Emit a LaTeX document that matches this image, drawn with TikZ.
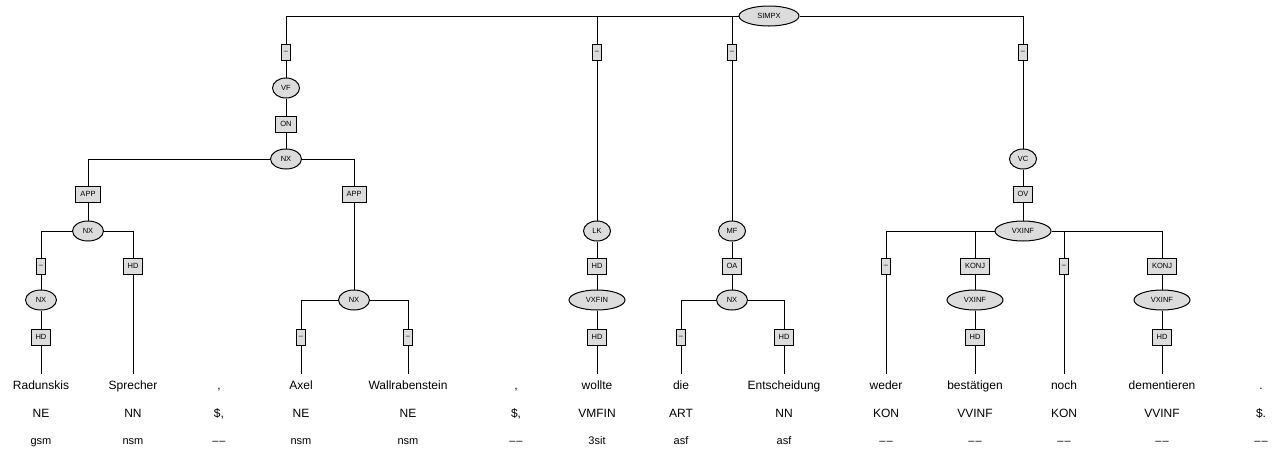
\documentclass[tikz,border=0pt]{standalone}
\usepackage{fontspec}
\setmainfont{Liberation Sans}
\usetikzlibrary{shapes.geometric}
\definecolor{nodegray}{HTML}{DCDCDC}

\begin{document}
\begin{tikzpicture}[x=1pt,y=-1pt,line width=1pt,
  cat/.style={ellipse,draw,fill=nodegray,font=\fontsize{7.5}{9}\selectfont,inner sep=1pt,minimum width=27pt,minimum height=20pt},
  widecat/.style={cat,minimum width=56pt},
  func/.style={rectangle,draw,fill=nodegray,font=\fontsize{7.5}{9}\selectfont,inner xsep=4.5pt,inner ysep=0pt,minimum height=16pt},
  dashbox/.style={func,inner xsep=0pt,minimum width=9pt,minimum height=16pt},
  word/.style={anchor=base,font=\fontsize{12}{14}\selectfont,inner sep=0pt,text height=9pt,text depth=3pt,outer ysep=6pt},
  tag/.style={anchor=base,font=\fontsize{12}{14}\selectfont,inner sep=0pt},
  morph/.style={anchor=base,font=\fontsize{11}{13}\selectfont,inner sep=0pt}]
\useasboundingbox (0,0) rectangle (1276,448);

% terminals: word, POS tag, morphology
\foreach \x/\w/\p/\m [count=\i] in {41/Radunskis/NE/gsm, 133/Sprecher/NN/nsm, 219/{,}/{\$,}/{\textendash\kern1pt\textendash},
  301/Axel/NE/nsm, 408/Wallrabenstein/NE/nsm, 516/{,}/{\$,}/{\textendash\kern1pt\textendash}, 597/wollte/VMFIN/3sit,
  681/die/ART/asf, 784/Entscheidung/NN/asf, 886/weder/KON/{\textendash\kern1pt\textendash}, 975/bestätigen/VVINF/{\textendash\kern1pt\textendash},
  1064/noch/KON/{\textendash\kern1pt\textendash}, 1162/dementieren/VVINF/{\textendash\kern1pt\textendash}, 1261/./{\$.}/{\textendash\kern1pt\textendash}}{
  \node[word] (w\i) at (\x,389) {\w};
  \node[tag] (p\i) at (\x,417) {\p};
  \node[morph] (m\i) at (\x,444) {\m};
}

% root
\node[widecat,minimum width=60pt] (simpx) at (769,16) {SIMPX};
\node[dashbox] (fvf) at (286,52) {\textendash};
\node[dashbox] (flk) at (597,52) {\textendash};
\node[dashbox] (fmf) at (732,52) {\textendash};
\node[dashbox] (fvc) at (1023,52) {\textendash};

% VF
\node[cat] (vf) at (286,88) {VF};
\node[func] (on) at (286,124) {ON};
\node[cat,minimum width=31pt] (nxa) at (286,159) {NX};
\node[func] (appa) at (88,194) {APP};
\node[func] (appb) at (354,194) {APP};
\node[cat,minimum width=31pt] (nxb) at (88,231) {NX};
\node[dashbox] (fb1) at (41,266) {\textendash};
\node[func] (hdb) at (133,266) {HD};
\node[cat,minimum width=31pt] (nxc) at (41,300) {NX};
\node[func] (hdc) at (41,337) {HD};
\node[cat,minimum width=31pt] (nxd) at (354,300) {NX};
\node[dashbox] (fd1) at (301,337) {\textendash};
\node[dashbox] (fd2) at (408,337) {\textendash};

% LK
\node[cat] (lk) at (597,231) {LK};
\node[func] (hdlk) at (597,266) {HD};
\node[widecat] (vxfin) at (597,300) {VXFIN};
\node[func] (hdv) at (597,337) {HD};

% MF
\node[cat] (mf) at (732,231) {MF};
\node[func] (oa) at (732,266) {OA};
\node[cat,minimum width=31pt] (nxe) at (732,300) {NX};
\node[dashbox] (fe1) at (681,337) {\textendash};
\node[func] (hde) at (784,337) {HD};

% VC
\node[cat] (vc) at (1023,159) {VC};
\node[func] (ov) at (1023,194) {OV};
\node[widecat] (vxinf) at (1023,231) {VXINF};
\node[dashbox] (fg1) at (886,266) {\textendash};
\node[func] (konja) at (975,266) {KONJ};
\node[dashbox] (fg2) at (1064,266) {\textendash};
\node[func] (konjb) at (1162,266) {KONJ};
\node[widecat] (vxa) at (975,300) {VXINF};
\node[widecat] (vxb) at (1162,300) {VXINF};
\node[func] (hda) at (975,337) {HD};
\node[func] (hdd) at (1162,337) {HD};

% edges
\draw (simpx) -| (fvf);
\draw (simpx) -| (flk);
\draw (simpx) -| (fmf);
\draw (simpx) -| (fvc);
\draw (fvf) -- (vf) (vf) -- (on) (on) -- (nxa);
\draw (nxa) -| (appa);
\draw (nxa) -| (appb);
\draw (appa) -- (nxb) (appb) -- (nxd);
\draw (nxb) -| (fb1);
\draw (nxb) -| (hdb);
\draw (fb1) -- (nxc) (nxc) -- (hdc) (hdc) -- (w1.north);
\draw (hdb) -- (w2.north);
\draw (nxd) -| (fd1);
\draw (nxd) -| (fd2);
\draw (fd1) -- (w4.north) (fd2) -- (w5.north);
\draw (flk) -- (lk) (lk) -- (hdlk) (hdlk) -- (vxfin) (vxfin) -- (hdv) (hdv) -- (w7.north);
\draw (fmf) -- (mf) (mf) -- (oa) (oa) -- (nxe);
\draw (nxe) -| (fe1);
\draw (nxe) -| (hde);
\draw (fe1) -- (w8.north) (hde) -- (w9.north);
\draw (fvc) -- (vc) (vc) -- (ov) (ov) -- (vxinf);
\draw (vxinf) -| (fg1);
\draw (vxinf) -| (konja);
\draw (vxinf) -| (fg2);
\draw (vxinf) -| (konjb);
\draw (fg1) -- (w10.north) (fg2) -- (w12.north);
\draw (konja) -- (vxa) (vxa) -- (hda) (hda) -- (w11.north);
\draw (konjb) -- (vxb) (vxb) -- (hdd) (hdd) -- (w13.north);
\end{tikzpicture}
\end{document}
